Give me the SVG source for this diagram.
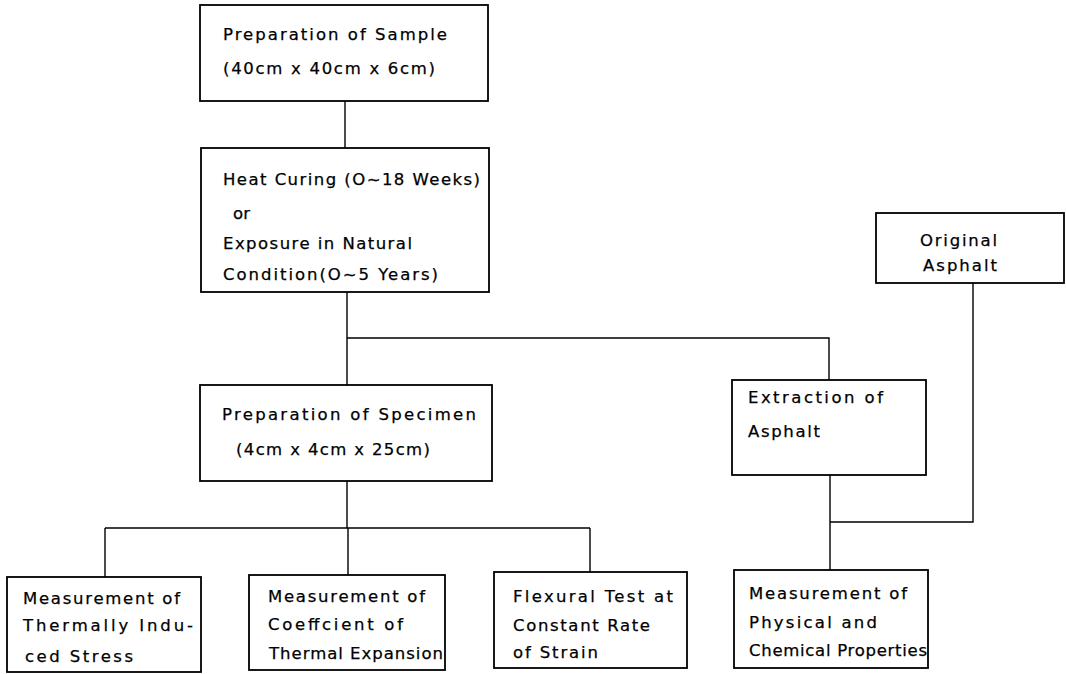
<svg xmlns="http://www.w3.org/2000/svg" width="1066" height="674" viewBox="0 0 1066 674">
<style>
.box{fill:#fff;stroke:#000;stroke-width:1.8}
.ln{fill:none;stroke:#000;stroke-width:1.4}
text{font-family:"DejaVu Sans","Liberation Sans",Arial,sans-serif;font-size:16.5px;fill:#000;stroke:#000;stroke-width:0.25}
</style>
<rect width="1066" height="674" fill="#fff"/>
<g id="connectors">
<path class="ln" d="M345 101V148"/>
<path class="ln" d="M347 292V385M347 338H829V380"/>
<path class="ln" d="M347 481V528M105 528H590M105 528V577M348 528V575M590 528V572"/>
<path class="ln" d="M830 475V570M830 522H973V283"/>
</g>
<g id="sample">
<rect class="box" x="200" y="5" width="288" height="96"/>
<text x="223" y="40" textLength="224" lengthAdjust="spacing">Preparation of Sample</text>
<text x="223" y="74" textLength="212" lengthAdjust="spacing">(40cm x 40cm x 6cm)</text>
</g>
<g id="curing">
<rect class="box" x="201" y="148" width="288" height="144"/>
<text x="223" y="185" textLength="257" lengthAdjust="spacing">Heat Curing (O~18 Weeks)</text>
<text x="233" y="219" textLength="17" lengthAdjust="spacing">or</text>
<text x="223" y="249" textLength="189" lengthAdjust="spacing">Exposure in Natural</text>
<text x="223" y="280" textLength="215" lengthAdjust="spacing">Condition(O~5 Years)</text>
</g>
<g id="original">
<rect class="box" x="876" y="213" width="188" height="70"/>
<text x="920" y="246" textLength="77" lengthAdjust="spacing">Original</text>
<text x="923" y="271" textLength="74" lengthAdjust="spacing">Asphalt</text>
</g>
<g id="extraction">
<rect class="box" x="732" y="380" width="194" height="95"/>
<text x="748" y="403" textLength="135" lengthAdjust="spacing">Extraction of</text>
<text x="748" y="437" textLength="72" lengthAdjust="spacing">Asphalt</text>
</g>
<g id="specimen">
<rect class="box" x="200" y="385" width="292" height="96"/>
<text x="222" y="420" textLength="254" lengthAdjust="spacing">Preparation of Specimen</text>
<text x="236" y="455" textLength="194" lengthAdjust="spacing">(4cm x 4cm x 25cm)</text>
</g>
<g id="stress">
<rect class="box" x="7" y="577" width="194" height="95"/>
<text x="23" y="604" textLength="157" lengthAdjust="spacing">Measurement of</text>
<text x="23" y="631" textLength="170" lengthAdjust="spacing">Thermally Indu-</text>
<text x="25" y="662" textLength="108" lengthAdjust="spacing">ced Stress</text>
</g>
<g id="expansion">
<rect class="box" x="249" y="575" width="196" height="95"/>
<text x="268" y="602" textLength="157" lengthAdjust="spacing">Measurement of</text>
<text x="268" y="630" textLength="135" lengthAdjust="spacing">Coeffcient of</text>
<text x="269" y="659" textLength="174" lengthAdjust="spacing">Thermal Expansion</text>
</g>
<g id="flexural">
<rect class="box" x="494" y="572" width="193" height="96"/>
<text x="513" y="602" textLength="160" lengthAdjust="spacing">Flexural Test at</text>
<text x="513" y="631" textLength="137" lengthAdjust="spacing">Constant Rate</text>
<text x="513" y="658" textLength="85" lengthAdjust="spacing">of Strain</text>
</g>
<g id="properties">
<rect class="box" x="734" y="570" width="194" height="98"/>
<text x="749" y="599" textLength="158" lengthAdjust="spacing">Measurement of</text>
<text x="749" y="628" textLength="128" lengthAdjust="spacing">Physical and</text>
<text x="749" y="656" textLength="178" lengthAdjust="spacing">Chemical Properties</text>
</g>
</svg>
